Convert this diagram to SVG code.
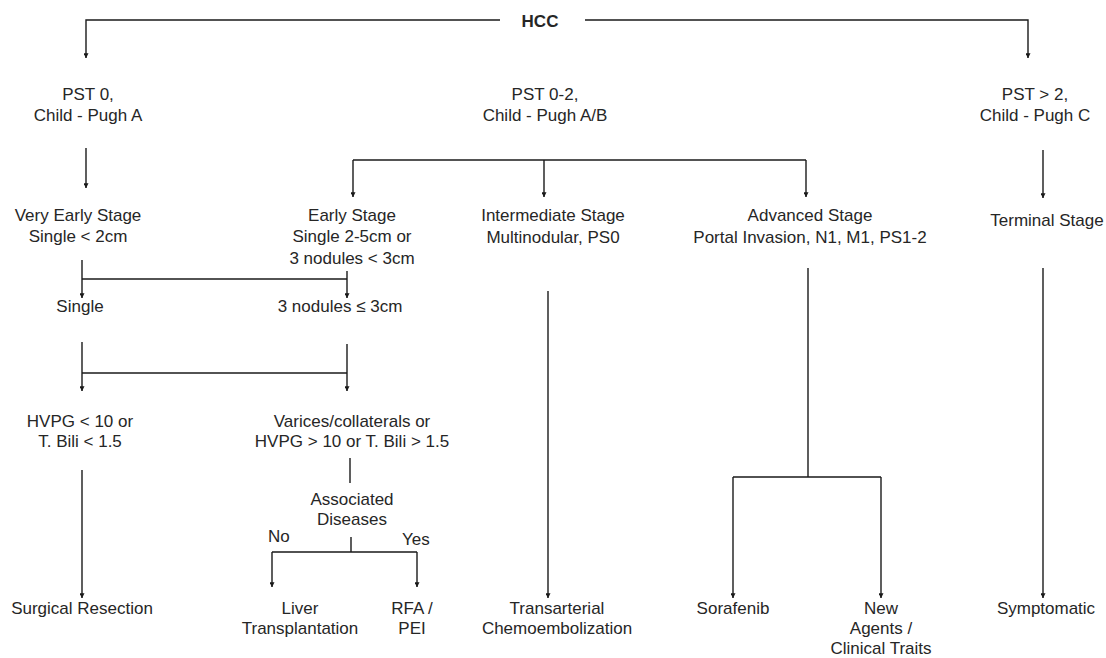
<svg xmlns="http://www.w3.org/2000/svg" width="1106" height="658" viewBox="0 0 1106 658">
<defs>
<style>
text{font-family:"Liberation Sans",Arial,sans-serif;font-size:17px;fill:#262626;text-anchor:middle}
.b{font-weight:bold}
.l{text-anchor:start}
.c path{fill:none;stroke:#1a1a1a;stroke-width:1.4}
.c path.a{marker-end:url(#ah)}
</style>
<marker id="ah" viewBox="0 0 8 8" refX="7.5" refY="4" markerWidth="5" markerHeight="5" markerUnits="userSpaceOnUse" orient="auto">
<path d="M0,0 L8,4 L0,8 z" fill="#1a1a1a"/>
</marker>
</defs>
<rect width="1106" height="658" fill="#fff"/>
<g class="c" id="connectors">
<path class="a" d="M500,20 H86 V58"/>
<path class="a" d="M585,20 H1028 V58"/>
<path class="a" d="M86,148 V188"/>
<path d="M353,160 H806"/>
<path class="a" d="M353,160 V197"/>
<path class="a" d="M544,160 V197"/>
<path class="a" d="M806,160 V197"/>
<path class="a" d="M1043,150 V198"/>
<path class="a" d="M82,260 V298"/>
<path d="M82,279 H347"/>
<path class="a" d="M347,271 V298"/>
<path class="a" d="M82,342 V391"/>
<path d="M82,373 H347"/>
<path class="a" d="M347,344 V391"/>
<path class="a" d="M82,470 V598"/>
<path d="M350,458 V483"/>
<path d="M351,537 V552 M272,552 H417"/>
<path class="a" d="M272,552 V587"/>
<path class="a" d="M417,552 V587"/>
<path class="a" d="M548,291 V598"/>
<path d="M808,268 V477 M733,477 H881"/>
<path class="a" d="M733,477 V598"/>
<path class="a" d="M881,477 V598"/>
<path class="a" d="M1043,268 V598"/>
</g>
<g id="hcc"><text class="b" x="540" y="27">HCC</text></g>
<g id="pst0"><text x="88" y="100">PST 0,</text><text x="88" y="121">Child - Pugh A</text></g>
<g id="pst02"><text x="545" y="100">PST 0-2,</text><text x="545" y="121">Child - Pugh A/B</text></g>
<g id="pst2"><text x="1035" y="100">PST &gt; 2,</text><text x="1035" y="121">Child - Pugh C</text></g>
<g id="veryearly"><text x="78" y="221">Very Early Stage</text><text x="78" y="242">Single &lt; 2cm</text></g>
<g id="early"><text x="352" y="221">Early Stage</text><text x="352" y="242">Single 2-5cm or</text><text x="352" y="264">3 nodules &lt; 3cm</text></g>
<g id="intermediate"><text x="553" y="221">Intermediate Stage</text><text x="553" y="243">Multinodular, PS0</text></g>
<g id="advanced"><text x="810" y="221">Advanced Stage</text><text x="810" y="243">Portal Invasion, N1, M1, PS1-2</text></g>
<g id="terminal"><text x="1047" y="226">Terminal Stage</text></g>
<g id="single"><text x="80" y="312">Single</text></g>
<g id="nodules"><text x="340" y="312">3 nodules ≤ 3cm</text></g>
<g id="hvpglow"><text x="80" y="427">HVPG &lt; 10 or</text><text x="80" y="447">T. Bili &lt; 1.5</text></g>
<g id="varices"><text x="352" y="427">Varices/collaterals or</text><text x="352" y="447">HVPG &gt; 10 or T. Bili &gt; 1.5</text></g>
<g id="assoc"><text x="352" y="505">Associated</text><text x="352" y="525">Diseases</text></g>
<g id="no"><text class="l" x="268" y="542">No</text></g>
<g id="yes"><text class="l" x="402" y="545">Yes</text></g>
<g id="surgical"><text x="82" y="614">Surgical Resection</text></g>
<g id="liver"><text x="300" y="614">Liver</text><text x="300" y="634">Transplantation</text></g>
<g id="rfa"><text x="412" y="614">RFA /</text><text x="412" y="634">PEI</text></g>
<g id="tace"><text x="557" y="614">Transarterial</text><text x="557" y="634">Chemoembolization</text></g>
<g id="sorafenib"><text x="733" y="614">Sorafenib</text></g>
<g id="newagents"><text x="881" y="614">New</text><text x="881" y="634">Agents /</text><text x="881" y="654">Clinical Traits</text></g>
<g id="symptomatic"><text x="1046" y="614">Symptomatic</text></g>
</svg>
